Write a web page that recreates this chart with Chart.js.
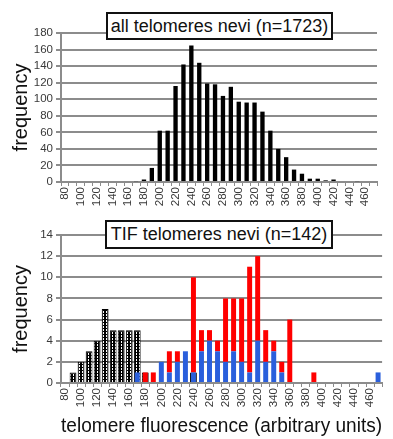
<!DOCTYPE html>
<html lang="en">
<head>
    <meta charset="UTF-8">
    <title>Telomere fluorescence</title>
    <script src="https://cdn.jsdelivr.net/npm/chart.js"></script>
    <style>
        body {
            margin: 0;
            background: #fff;
            font-family: "Liberation Sans", Arial, sans-serif;
        }
        .wrap {
            position: relative;
            width: 393px;
            height: 439px;
            overflow: hidden;
        }
        canvas {
            position: absolute;
            left: 0;
        }
        #topChart { top: 0; }
        #bottomChart { top: 215px; }
        .box {
            position: absolute;
            box-sizing: border-box;
            background: #fff;
            border: 2px solid #111;
            font-size: 18px;
            color: #111;
            text-align: center;
            white-space: nowrap;
        }
    </style>
</head>
<body>

<div class="wrap">
    <canvas id="topChart" width="393" height="215"></canvas>
    <canvas id="bottomChart" width="393" height="224"></canvas>
    <div class="box" style="left:106px; top:12px; width:227px; height:28px; line-height:24px;">all telomeres nevi (n=1723)</div>
    <div class="box" style="left:105px; top:220px; width:228px; height:29px; line-height:25px;">TIF telomeres nevi (n=142)</div>
</div>

<script>
    // bins of telomere fluorescence (arbitrary units)
    var categories = ['80', '90', '100', '110', '120', '130', '140', '150', '160', '170',
        '180', '190', '200', '210', '220', '230', '240', '250', '260', '270',
        '280', '290', '300', '310', '320', '330', '340', '350', '360', '370',
        '380', '390', '400', '410', '420', '430', '440', '450', '460', '470'];

    // all telomeres nevi (n=1723)
    var allTelomeres = [0, 0, 0, 0, 0, 0, 0, 0, 0, 1,
        3, 17, 62, 62, 116, 142, 165, 144, 119, 118,
        104, 115, 97, 96, 96, 85, 62, 40, 30, 15,
        10, 4, 4, 2, 3, 0, 0, 1, 0, 0];

    // TIF telomeres nevi (n=142)
    var tifBlack = [0, 1, 2, 3, 4, 7, 5, 5, 5, 5,
        1, 0, 0, 0, 0, 0, 1, 0, 0, 0,
        0, 0, 0, 0, 0, 0, 0, 0, 0, 0,
        0, 0, 0, 0, 0, 0, 0, 0, 0, 0];
    var tifBlue = [0, 0, 0, 0, 0, 0, 0, 0, 0, 1,
        0, 0, 2, 1, 2, 3, 1, 3, 4, 3,
        2, 3, 2, 1, 4, 2, 3, 1, 0, 0,
        0, 0, 0, 0, 0, 0, 0, 0, 0, 1];
    var tifRed = [0, 0, 0, 0, 0, 0, 0, 0, 0, 0,
        1, 1, 0, 2, 1, 0, 9, 2, 1, 1,
        6, 5, 6, 10, 8, 3, 1, 1, 6, 0,
        0, 1, 0, 0, 0, 0, 0, 0, 0, 0];

    var gridGray = '#8c8c8c';
    var labelGray = '#3a3a3a';

    Chart.defaults.font.family = '"Liberation Sans", Arial, sans-serif';
    Chart.defaults.color = labelGray;

    // black bars with white dashes
    function dashPattern() {
        var c = document.createElement('canvas');
        c.width = 3;
        c.height = 3;
        var g = c.getContext('2d');
        g.fillStyle = '#000';
        g.fillRect(0, 0, 3, 3);
        g.fillStyle = '#fff';
        g.fillRect(1, 0, 1, 2);
        return g.createPattern(c, 'repeat');
    }

    function everyOther(value, index) {
        return index % 2 === 0 ? this.getLabelForValue(value) : '';
    }

    function xAxis(height, title) {
        var axis = {
            offset: true,
            grid: {
                display: true,
                drawOnChartArea: false,
                color: gridGray,
                tickLength: 4,
                offset: true
            },
            border: { color: gridGray, width: 2 },
            ticks: {
                autoSkip: false,
                minRotation: 90,
                maxRotation: 90,
                padding: 1,
                font: { size: 11.5 },
                color: labelGray,
                callback: everyOther
            },
            afterFit: function (scale) { scale.height = height; }
        };
        if (title) {
            axis.title = {
                display: true,
                text: title,
                color: '#111',
                font: { size: 20.5 },
                padding: { top: 0, bottom: 0 }
            };
        }
        return axis;
    }

    function yAxis(max, step) {
        return {
            min: 0,
            max: max,
            ticks: {
                stepSize: step,
                autoSkip: false,
                padding: 3,
                font: { size: 11.5 },
                color: labelGray
            },
            grid: { color: gridGray, lineWidth: 2, tickLength: 5 },
            border: { color: gridGray, width: 2 },
            title: {
                display: true,
                text: 'frequency',
                color: '#111',
                font: { size: 20 },
                padding: { top: 9, bottom: 0 }
            },
            afterFit: function (scale) { scale.width = 61; }
        };
    }

    // Top histogram
    new Chart(document.getElementById('topChart').getContext('2d'), {
        type: 'bar',
        data: {
            labels: categories,
            datasets: [{
                data: allTelomeres,
                backgroundColor: '#000',
                barPercentage: 0.55,
                categoryPercentage: 1
            }]
        },
        options: {
            responsive: false,
            animation: false,
            devicePixelRatio: 1,
            layout: { padding: { top: 33, right: 16, left: 0, bottom: 0 } },
            plugins: { legend: { display: false }, tooltip: { enabled: false } },
            scales: {
                x: xAxis(33, null),
                y: yAxis(180, 20)
            }
        }
    });

    // Bottom histogram
    new Chart(document.getElementById('bottomChart').getContext('2d'), {
        type: 'bar',
        data: {
            labels: categories,
            datasets: [{
                data: tifBlue,
                backgroundColor: '#2a5fdc',
                stack: 'tif',
                order: 0,
                grouped: false,
                barPercentage: 0.62,
                categoryPercentage: 1
            }, {
                data: tifRed,
                backgroundColor: '#ff0000',
                stack: 'tif',
                order: 1,
                grouped: false,
                barPercentage: 0.62,
                categoryPercentage: 1
            }, {
                data: tifBlack,
                backgroundColor: dashPattern(),
                borderColor: '#000',
                borderWidth: 1,
                stack: 'black',
                order: 2,
                grouped: false,
                barPercentage: 0.85,
                categoryPercentage: 1
            }]
        },
        options: {
            responsive: false,
            animation: false,
            devicePixelRatio: 1,
            layout: { padding: { top: 20, right: 10, left: 0, bottom: 0 } },
            plugins: { legend: { display: false }, tooltip: { enabled: false } },
            scales: {
                x: Object.assign(xAxis(56, 'telomere fluorescence (arbitrary units)'), { stacked: true }),
                y: Object.assign(yAxis(14, 2), { stacked: true })
            }
        }
    });
</script>

</body>
</html>
